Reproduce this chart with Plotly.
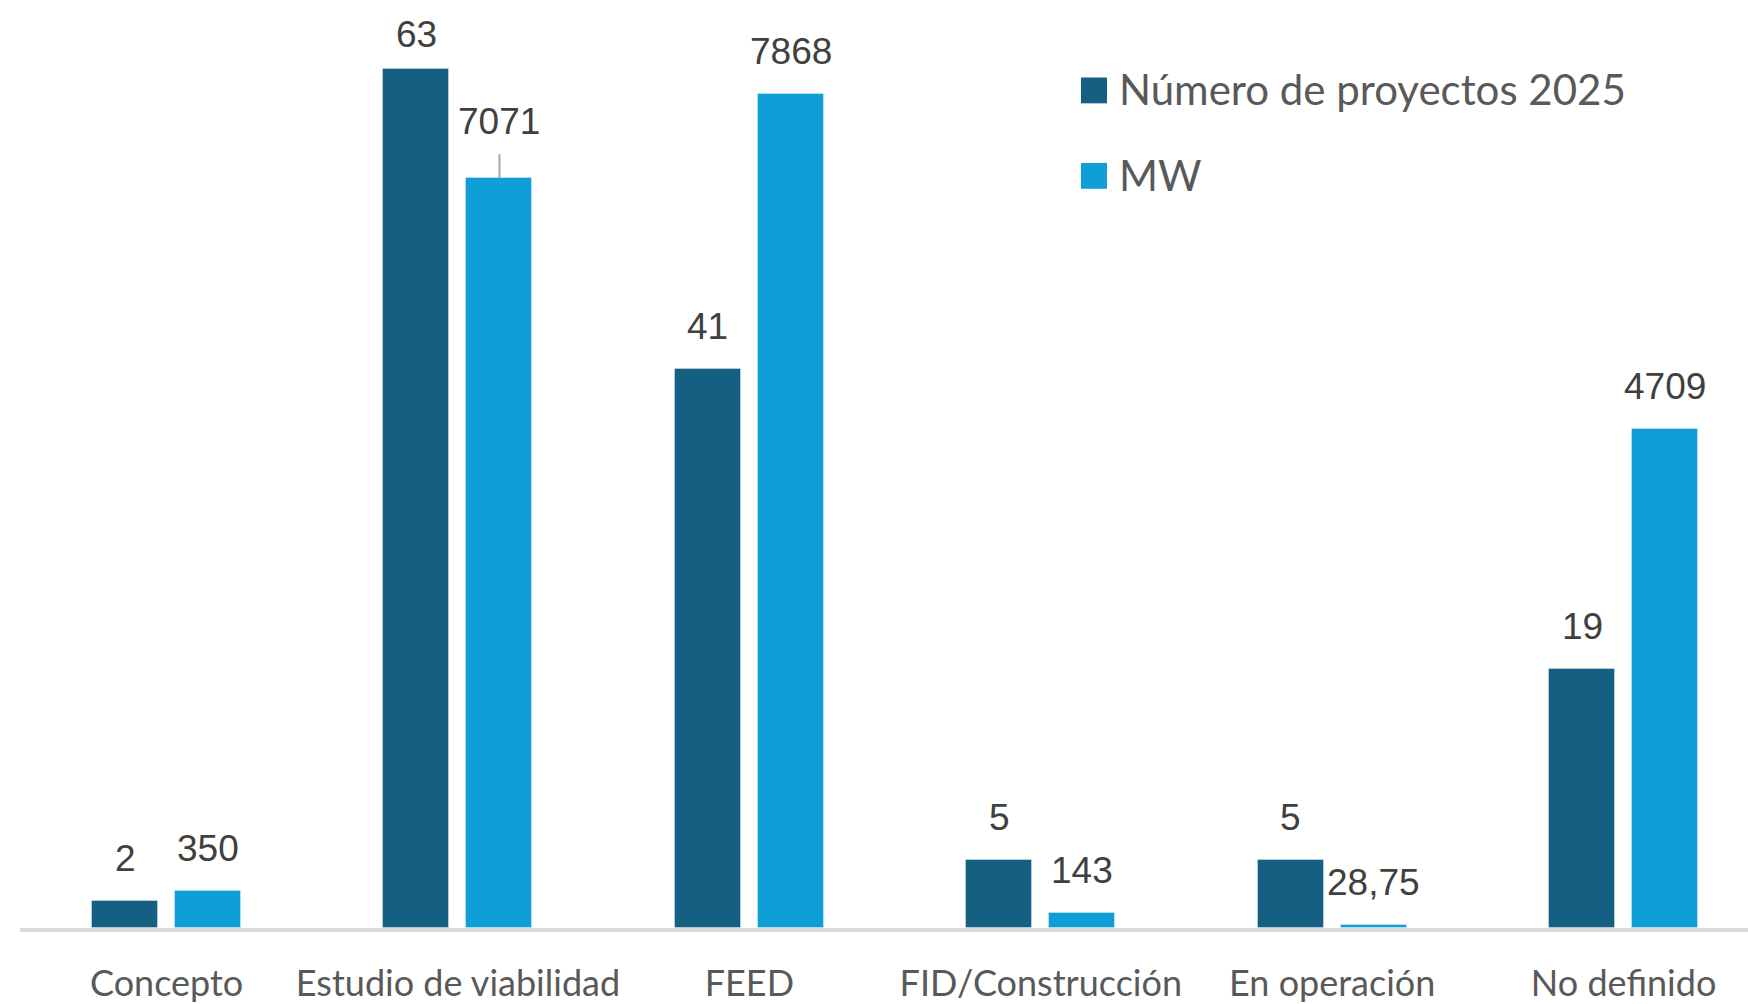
import plotly.graph_objects as go

# ---------------- data ----------------
categories = ["Concepto", "Estudio de viabilidad", "FEED", "FID/Construcción", "En operación", "No definido"]
num_proyectos = [2, 63, 41, 5, 5, 19]
mw = [350, 7071, 7868, 143, 28.75, 4709]
mw_labels = ["350", "7071", "7868", "143", "28,75", "4709"]
series_names = ["Número de proyectos 2025", "MW"]

# ---------------- style ----------------
W, H = 1748, 1004
ML, MR, MT, MB = 20, 0, 0, 70
PW, PH = W - ML - MR, H - MT - MB
PX_PER_CAT = 291.4
PX_PER_N = 13.727
PX_PER_MW = 0.1067
C_DARK = "#156082"
C_LIGHT = "#0F9ED5"
TXT = "#595959"
LBL = "#404040"
BAR_W = 0.2265
GAP = 0.0583
OFF_DARK = -(GAP / 2 + BAR_W)
OFF_LIGHT = GAP / 2
CEN_DARK = OFF_DARK + BAR_W / 2
CEN_LIGHT = OFF_LIGHT + BAR_W / 2
X0 = -0.503

fig = go.Figure()
fig.add_trace(go.Bar(x=categories, y=num_proyectos, name=series_names[0], marker_color=C_DARK,
                     marker_line=dict(color="rgba(255,255,255,0.35)", width=1),
                     width=BAR_W, offset=OFF_DARK, yaxis="y", showlegend=False))
fig.add_trace(go.Bar(x=categories, y=mw, name=series_names[1], marker_color=C_LIGHT,
                     marker_line=dict(color="rgba(255,255,255,0.35)", width=1),
                     width=BAR_W, offset=OFF_LIGHT, yaxis="y2", showlegend=False))

annotations = []
lbl_font = dict(family="Liberation Sans, Arial", size=37, color=LBL)
for i, v in enumerate(num_proyectos):
    shift = 20 if v != max(num_proyectos) else 12
    annotations.append(dict(x=i + CEN_DARK, y=v, xref="x", yref="y", text=str(v), showarrow=False,
                            yanchor="bottom", xanchor="center", yshift=shift, font=lbl_font))
for i, (v, t) in enumerate(zip(mw, mw_labels)):
    if t == "7071":
        annotations.append(dict(x=i + CEN_LIGHT, y=v, xref="x", yref="y2", text=t, showarrow=True,
                                arrowhead=0, arrowwidth=2, arrowcolor="#A6A6A6", ax=0, ay=-57,
                                startstandoff=11, font=lbl_font))
    else:
        annotations.append(dict(x=i + CEN_LIGHT, y=v, xref="x", yref="y2", text=t, showarrow=False,
                                yanchor="bottom", xanchor="center", yshift=20, font=lbl_font))

# custom legend (large square swatches), positions given in page pixels
def px_x(px):
    return (px - ML) / PW

def px_y(py):
    return 1 - (py - MT) / PH

shapes = []
leg_rows = [(series_names[0], C_DARK, 78), (series_names[1], C_LIGHT, 164)]
for name, col, top in leg_rows:
    shapes.append(dict(type="rect", xref="paper", yref="paper", x0=px_x(1081), x1=px_x(1107),
                       y0=px_y(top + 26), y1=px_y(top), fillcolor=col, line=dict(width=0)))
    annotations.append(dict(x=px_x(1117), y=px_y(top + 12), xref="paper", yref="paper", text=name,
                            showarrow=False, xanchor="left", yanchor="middle",
                            font=dict(family="Lato", size=42, color=TXT)))

fig.update_layout(
    width=W, height=H,
    margin=dict(l=ML, r=MR, t=MT, b=MB),
    paper_bgcolor="white", plot_bgcolor="white",
    showlegend=False,
    hovermode=False,
    bargap=0,
    xaxis=dict(range=[X0, X0 + PW / PX_PER_CAT], showgrid=False, zeroline=False, showline=True,
               linecolor="#D9D9D9", linewidth=4, ticks="",
               tickfont=dict(family="Lato", size=36, color=TXT), ticklabelstandoff=21),
    yaxis=dict(range=[0, PH / PX_PER_N], visible=False, showgrid=False, zeroline=False),
    yaxis2=dict(range=[0, PH / PX_PER_MW], visible=False, showgrid=False, zeroline=False,
                overlaying="y", side="right"),
    annotations=annotations,
    shapes=shapes,
)

fig.write_html("out.html",
               config={"displayModeBar": False},
               post_script="document.body.style.margin='0';document.body.style.overflow='hidden';")
